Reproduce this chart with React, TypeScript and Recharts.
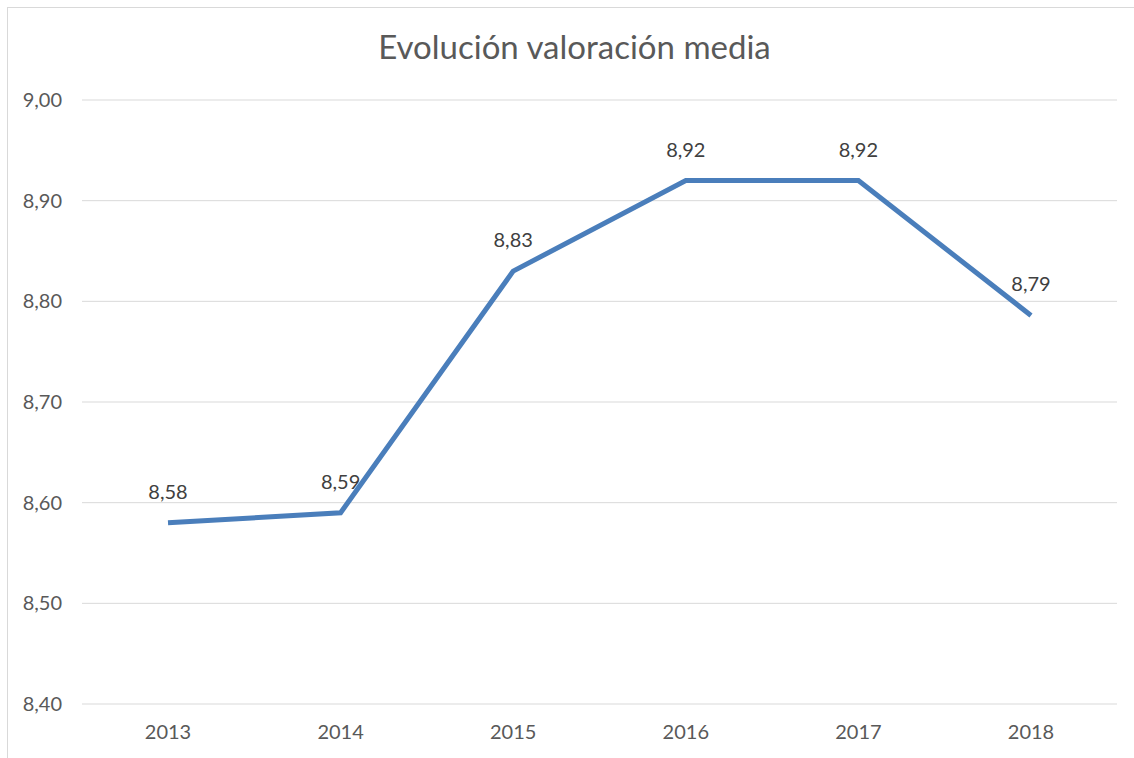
import React from 'react';
import { LineChart, Line, XAxis, YAxis, CartesianGrid, LabelList } from 'recharts';

const years = ['2013', '2014', '2015', '2016', '2017', '2018'];
const valoracion = [8.58, 8.59, 8.83, 8.92, 8.92, 8.786];
const yTicks = [8.4, 8.5, 8.6, 8.7, 8.8, 8.9, 9.0];

const data = years.map((year, i) => ({ year, valor: valoracion[i] }));

// Spanish decimal format: 8.58 -> "8,58"
const fmt = (v: number) => v.toFixed(2).replace('.', ',');

const FONT = 'Lato, "Open Sans", sans-serif';

function renderLabel(props: any) {
  const { x, y, value } = props;
  return (
    <text x={x} y={y - 24} textAnchor="middle" fill="#404040" fontSize={20} fontFamily={FONT}>
      {fmt(value)}
    </text>
  );
}

export default function App() {
  return (
    <div style={{ position: 'relative', width: 1134, height: 758, overflow: 'hidden', background: '#fff', fontFamily: FONT }}>
      <style>{'body{margin:0}'}</style>
      {/* chart frame: only top and left edges visible in the crop */}
      <div
        style={{
          position: 'absolute',
          left: 7,
          top: 7,
          width: 1150,
          height: 770,
          border: '1px solid #d9d9d9',
          boxSizing: 'border-box',
        }}
      />
      <div
        style={{
          position: 'absolute',
          left: 0,
          width: 1134,
          top: 26,
          textAlign: 'center',
          fontSize: 33,
          color: '#595959',
          lineHeight: '40px',
          paddingLeft: 15,
          boxSizing: 'border-box',
        }}
      >
        Evolución valoración media
      </div>
      <div style={{ position: 'absolute', left: 0, top: 0 }}>
        <LineChart width={1134} height={758} data={data} margin={{ top: 100, right: 17, left: 0, bottom: 14 }}>
          <CartesianGrid vertical={false} stroke="#d9d9d9" strokeWidth={1} />
          <XAxis
            dataKey="year"
            padding={{ left: 86, right: 86 }}
            axisLine={false}
            tickLine={false}
            tickSize={0}
            tickMargin={21}
            height={40}
            tick={{ fontSize: 20, fill: '#595959', fontFamily: FONT }}
          />
          <YAxis
            domain={[8.4, 9.0]}
            ticks={yTicks}
            tickFormatter={fmt}
            axisLine={false}
            tickLine={false}
            tickSize={0}
            tickMargin={20}
            width={82}
            tick={{ fontSize: 20, fill: '#595959', fontFamily: FONT }}
          />
          <Line
            type="linear"
            dataKey="valor"
            stroke="#4A7EBB"
            strokeWidth={5}
            dot={false}
            activeDot={false}
            isAnimationActive={false}
          >
            <LabelList dataKey="valor" content={renderLabel} />
          </Line>
        </LineChart>
      </div>
    </div>
  );
}
